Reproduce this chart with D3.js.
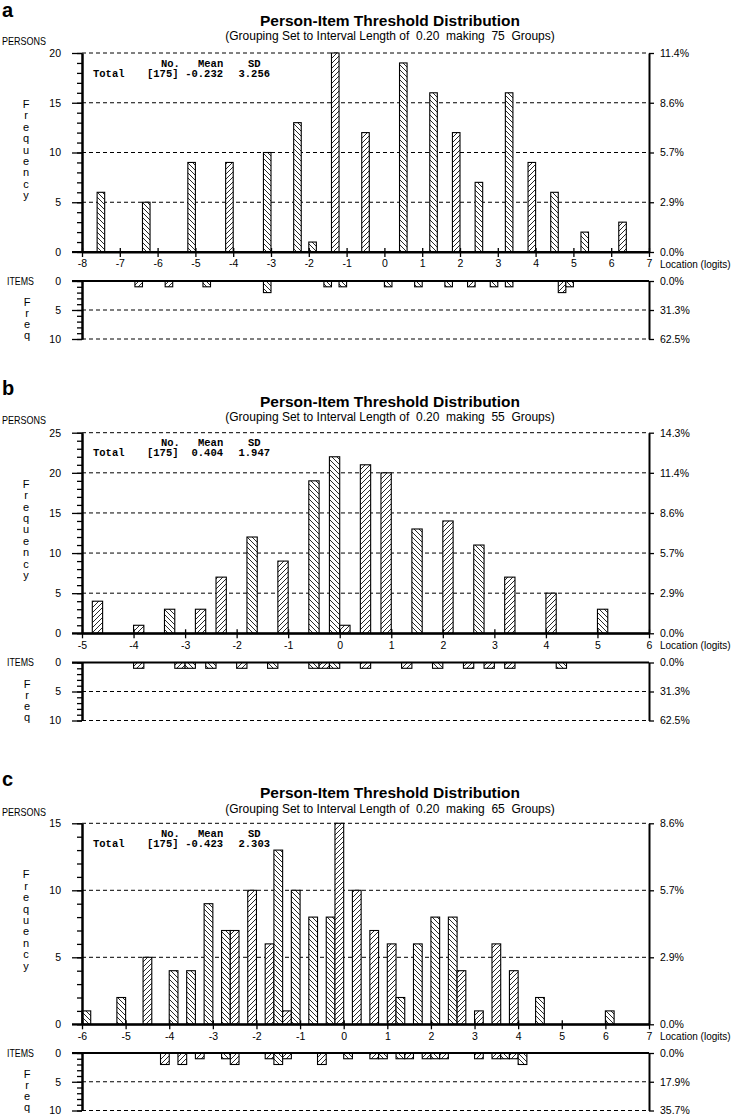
<!DOCTYPE html>
<html><head><meta charset="utf-8">
<script src="https://cdn.jsdelivr.net/npm/d3@7"></script>
<style>
html,body{margin:0;padding:0;background:#fff;}
svg text{font-family:"Liberation Sans",Arial,sans-serif;fill:#000;}
</style></head>
<body>
<svg id="chart" width="734" height="1116"></svg>
<script>
// ---------------- DATA ----------------
// Panel a
const aXTicks = [-8,-7,-6,-5,-4,-3,-2,-1,0,1,2,3,4,5,6,7];
const aPersonLoc  = [-7.5,-6.3,-5.1,-4.1,-3.1,-2.3,-1.9,-1.3,-0.5,0.5,1.3,1.9,2.5,3.3,3.9,4.5,5.3,6.3];
const aPersonFreq = [6,5,9,9,10,13,1,20,12,19,16,12,7,16,9,6,2,3];
const aItemLoc  = [-6.5,-5.7,-4.7,-3.1,-1.5,-1.1,0.1,0.9,1.7,2.3,2.9,3.3,4.7,4.9];
const aItemFreq = [1,1,1,2,1,1,1,1,1,1,1,1,2,1];
const aYTicks = [0,5,10,15,20];
const aPctLabels = ["0.0%","2.9%","5.7%","8.6%","11.4%"];
const aItemPct = ["0.0%","31.3%","62.5%"];
const aStats = ["[175]","-0.232","3.256"];
const aGroups = 75;

// Panel b
const bXTicks = [-5,-4,-3,-2,-1,0,1,2,3,4,5,6];
const bPersonLoc  = [-4.7,-3.9,-3.3,-2.7,-2.3,-1.7,-1.1,-0.5,-0.1,0.1,0.5,0.9,1.5,2.1,2.7,3.3,4.1,5.1];
const bPersonFreq = [4,1,3,3,7,12,9,19,22,1,21,20,13,14,11,7,5,3];
const bItemLoc  = [-3.9,-3.1,-2.9,-2.5,-1.9,-1.3,-0.5,-0.3,-0.1,0.5,1.3,1.9,2.5,2.9,3.3,4.3];
const bItemFreq = [1,1,1,1,1,1,1,1,1,1,1,1,1,1,1,1];
const bYTicks = [0,5,10,15,20,25];
const bPctLabels = ["0.0%","2.9%","5.7%","8.6%","11.4%","14.3%"];
const bItemPct = ["0.0%","31.3%","62.5%"];
const bStats = ["[175]","0.404","1.947"];
const bGroups = 55;

// Panel c
const cXTicks = [-6,-5,-4,-3,-2,-1,0,1,2,3,4,5,6,7];
const cPersonLoc  = [-5.9,-5.1,-4.5,-3.9,-3.5,-3.1,-2.7,-2.5,-2.1,-1.7,-1.5,-1.3,-1.1,-0.7,-0.3,-0.1,0.3,0.7,1.1,1.3,1.7,2.1,2.5,2.7,3.1,3.5,3.9,4.5,6.1];
const cPersonFreq = [1,2,5,4,4,9,7,7,10,6,13,1,10,8,8,15,10,7,6,2,6,8,8,4,1,6,4,2,1];
const cItemLoc  = [-4.1,-3.7,-3.3,-2.7,-2.5,-1.7,-1.5,-1.3,-0.5,0.1,0.7,0.9,1.3,1.5,1.9,2.1,2.3,3.1,3.5,3.7,3.9,4.1];
const cItemFreq = [2,2,1,1,2,1,2,1,2,1,1,1,1,1,1,1,1,1,1,1,1,2];
const cYTicks = [0,5,10,15];
const cPctLabels = ["0.0%","2.9%","5.7%","8.6%"];
const cItemPct = ["0.0%","17.9%","35.7%"];
const cStats = ["[175]","-0.423","2.303"];
const cGroups = 65;

const itemTicks = [0,5,10];
const interval = 0.2;

// ---------------- LAYOUT ----------------
const svg = d3.select("#chart");
const defs = svg.append("defs");
function hatch(id, d){
  const p = defs.append("pattern").attr("id",id).attr("patternUnits","userSpaceOnUse")
    .attr("width",5).attr("height",5);
  p.append("rect").attr("width",5).attr("height",5).attr("fill","#fff");
  p.append("path").attr("d",d).attr("stroke","#111").attr("stroke-width",0.9).attr("fill","none");
}
hatch("hBack","M0,0L5,5M-1,4L1,6M4,-1L6,1");   // "\\"
hatch("hFwd","M0,5L5,0M-1,1L1,-1M4,6L6,4");    // "/"

const panels = [
  {letter:"a", letterY:17, titleY:26, subY:40, personsY:45, top:53, bottom:252, itop:281, ibot:339,
   xTicks:aXTicks, pl:aPersonLoc, pf:aPersonFreq, il:aItemLoc, ifq:aItemFreq, yTicks:aYTicks,
   pct:aPctLabels, ipct:aItemPct, stats:aStats, groups:aGroups},
  {letter:"b", letterY:395, titleY:406.5, subY:421, personsY:423.5, top:432.7, bottom:633.3, itop:662.5, ibot:720.5,
   xTicks:bXTicks, pl:bPersonLoc, pf:bPersonFreq, il:bItemLoc, ifq:bItemFreq, yTicks:bYTicks,
   pct:bPctLabels, ipct:bItemPct, stats:bStats, groups:bGroups},
  {letter:"c", letterY:786, titleY:798, subY:813, personsY:816, top:823.3, bottom:1024.3, itop:1053, ibot:1110.5,
   xTicks:cXTicks, pl:cPersonLoc, pf:cPersonFreq, il:cItemLoc, ifq:cItemFreq, yTicks:cYTicks,
   pct:cPctLabels, ipct:cItemPct, stats:cStats, groups:cGroups}
];

const X0 = 82, X1 = 649;

panels.forEach(P => {
  const g = svg.append("g");
  const xmin = P.xTicks[0], xmax = P.xTicks[P.xTicks.length-1];
  const yMax = P.yTicks[P.yTicks.length-1];
  const x = d3.scaleLinear().domain([xmin,xmax]).range([X0,X1]);
  const y = d3.scaleLinear().domain([0,yMax]).range([P.bottom,P.top]);
  const yi = d3.scaleLinear().domain([0,10]).range([P.itop,P.ibot]);
  const pat = loc => (Math.round((loc - xmin - interval/2)/interval) % 2 === 0) ? "url(#hBack)" : "url(#hFwd)";

  // texts
  g.append("text").attr("x",2).attr("y",P.letterY).attr("font-size",20).attr("font-weight","bold").text(P.letter);
  g.append("text").attr("x",390).attr("y",P.titleY).attr("text-anchor","middle")
    .attr("font-size",15.5).attr("font-weight","bold").text("Person-Item Threshold Distribution");
  g.append("text").attr("x",390).attr("y",P.subY).attr("text-anchor","middle").attr("font-size",12)
    .attr("xml:space","preserve").style("white-space","pre")
    .text(`(Grouping Set to Interval Length of  ${interval.toFixed(2)}  making  ${P.groups}  Groups)`);
  g.append("text").attr("x",2).attr("y",P.personsY).attr("font-size",10.5)
    .attr("textLength",44).attr("lengthAdjust","spacingAndGlyphs").text("PERSONS");
  "Frequency".split("").forEach((ch,i)=>{
    g.append("text").attr("x",26).attr("y",P.top+55+i*11.4).attr("text-anchor","middle")
      .attr("font-size",11).text(ch);
  });
  g.append("text").attr("x",7).attr("y",P.itop+3.5).attr("font-size",10.5)
    .attr("textLength",27).attr("lengthAdjust","spacingAndGlyphs").text("ITEMS");
  "Freq".split("").forEach((ch,i)=>{
    g.append("text").attr("x",27).attr("y",P.itop+25+i*11).attr("text-anchor","middle")
      .attr("font-size",11).text(ch);
  });

  // gridlines
  g.append("g").selectAll("line").data(P.yTicks.filter(d=>d>0)).join("line")
    .attr("x1",X0).attr("x2",X1).attr("y1",d=>y(d)).attr("y2",d=>y(d))
    .attr("stroke","#000").attr("stroke-width",1).attr("stroke-dasharray","4,3");
  g.append("g").selectAll("line").data(itemTicks.filter(d=>d>0)).join("line")
    .attr("x1",X0).attr("x2",X1).attr("y1",d=>yi(d)).attr("y2",d=>yi(d))
    .attr("stroke","#000").attr("stroke-width",1).attr("stroke-dasharray","4,3");

  // stats
  const sf = {"font-family":"'Liberation Mono','Courier New',monospace","font-size":"10.5px","font-weight":"bold"};
  function st(txt,xx,yy,anchor){
    const t = g.append("text").attr("x",xx).attr("y",yy).attr("text-anchor",anchor||"start").text(txt);
    Object.entries(sf).forEach(([k,v])=>t.style(k,v));
  }
  st("No.",161,P.top+13.5); st("Mean",198,P.top+13.5); st("SD",248,P.top+13.5);
  st("Total",93,P.top+23.5); st(P.stats[0],147,P.top+23.5);
  st(P.stats[1],223,P.top+23.5,"end"); st(P.stats[2],270,P.top+23.5,"end");

  // person bars
  g.append("g").selectAll("rect").data(P.pl.map((l,i)=>({l,f:P.pf[i]}))).join("rect")
    .attr("x",d=>x(d.l-interval/2)).attr("width",d=>x(d.l+interval/2)-x(d.l-interval/2))
    .attr("y",d=>y(d.f)).attr("height",d=>y(0)-y(d.f))
    .attr("fill",d=>pat(d.l)).attr("stroke","#000").attr("stroke-width",1.1);
  // item bars
  g.append("g").selectAll("rect").data(P.il.map((l,i)=>({l,f:P.ifq[i]}))).join("rect")
    .attr("x",d=>x(d.l-interval/2)).attr("width",d=>x(d.l+interval/2)-x(d.l-interval/2))
    .attr("y",yi(0)).attr("height",d=>yi(d.f)-yi(0))
    .attr("fill",d=>pat(d.l)).attr("stroke","#000").attr("stroke-width",1.1);

  function styleAxis(sel, w){
    sel.selectAll("path.domain").attr("stroke","#000").attr("stroke-width",w);
    sel.selectAll(".tick line").attr("stroke","#000").attr("stroke-width",1.3);
    sel.selectAll("text").attr("font-size",10.5).attr("font-family","'Liberation Sans',Arial,sans-serif");
  }
  // persons left axis: minor then major
  const minorL = g.append("g").attr("transform",`translate(${X0},0)`)
    .call(d3.axisLeft(y).tickValues(d3.range(0,yMax+1,1)).tickSize(5).tickSizeOuter(0).tickFormat(""));
  styleAxis(minorL,2);
  const majorL = g.append("g").attr("transform",`translate(${X0},0)`)
    .call(d3.axisLeft(y).tickValues(P.yTicks).tickSize(10).tickSizeOuter(0).tickPadding(11));
  styleAxis(majorL,2);
  const rightA = g.append("g").attr("transform",`translate(${X1},0)`)
    .call(d3.axisRight(y).tickValues(P.yTicks).tickSize(5).tickSizeOuter(0).tickPadding(6)
      .tickFormat((d,i)=>P.pct[i]));
  styleAxis(rightA,2);
  const bottomA = g.append("g").attr("transform",`translate(0,${P.bottom})`)
    .call(d3.axisBottom(x).tickValues(P.xTicks).tickSize(5).tickSizeOuter(0).tickPadding(3)
      .tickFormat(d=>String(d)));
  styleAxis(bottomA,2);
  bottomA.selectAll(".tick line").attr("y1",-4);
  g.append("line").attr("x1",X0-10).attr("x2",X1).attr("y1",P.bottom).attr("y2",P.bottom)
    .attr("stroke","#000").attr("stroke-width",2);
  g.append("text").attr("x",660).attr("y",P.bottom+15.5).attr("font-size",10).text("Location (logits)");

  // items axes
  const iminor = g.append("g").attr("transform",`translate(${X0},0)`)
    .call(d3.axisLeft(yi).tickValues(d3.range(0,11,1)).tickSize(5).tickSizeOuter(0).tickFormat(""));
  styleAxis(iminor,2);
  const imajor = g.append("g").attr("transform",`translate(${X0},0)`)
    .call(d3.axisLeft(yi).tickValues(itemTicks).tickSize(10).tickSizeOuter(0).tickPadding(11));
  styleAxis(imajor,2);
  const iright = g.append("g").attr("transform",`translate(${X1},0)`)
    .call(d3.axisRight(yi).tickValues(itemTicks).tickSize(5).tickSizeOuter(0).tickPadding(6)
      .tickFormat((d,i)=>P.ipct[i]));
  styleAxis(iright,2);
  g.append("line").attr("x1",X0-10).attr("x2",X1).attr("y1",P.itop).attr("y2",P.itop)
    .attr("stroke","#000").attr("stroke-width",2);
});
</script>
</body></html>
